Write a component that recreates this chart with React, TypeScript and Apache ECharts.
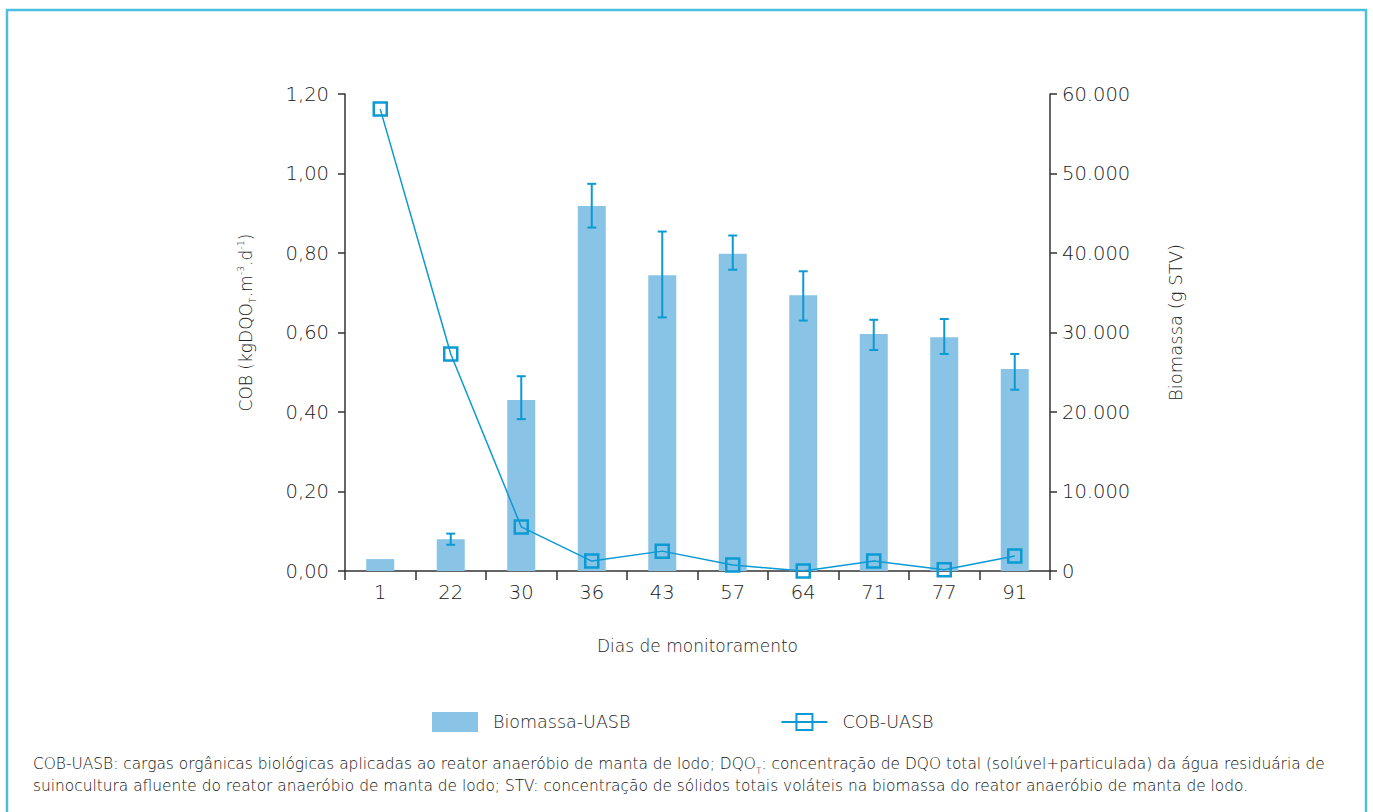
import React, { useEffect, useRef } from "react";
import * as echarts from "echarts";

const categories = ["1", "22", "30", "36", "43", "57", "64", "71", "77", "91"];
const biomassa = [1500, 4000, 21500, 45900, 37200, 39900, 34700, 29800, 29400, 25400];
const errLow = [null, 3300, 19100, 43200, 31900, 37900, 31500, 27800, 27300, 22800];
const errHigh = [null, 4700, 24500, 48700, 42700, 42200, 37700, 31600, 31700, 27300];
const cob = [1.162, 0.546, 0.111, 0.025, 0.05, 0.015, 0.0, 0.025, 0.003, 0.038];
const leftTicks = { min: 0, max: 1.2, interval: 0.2 };
const rightTicks = { min: 0, max: 60000, interval: 10000 };

const FONT = "'DejaVu Sans'";
const TXT = "#222";
const BAR = "#89c4e6";
const LINE = "#0b9ad3";
const W = 200;

export default function App() {
  const ref = useRef<HTMLDivElement>(null);
  useEffect(() => {
    if (!ref.current) return;
    const chart = echarts.init(ref.current, null, { renderer: "svg" });
    const errData = categories
      .map((_, i) => (errLow[i] == null ? null : [i, errLow[i], errHigh[i]]))
      .filter((d) => d !== null);
    chart.setOption({
      animation: false,
      textStyle: { fontFamily: FONT, fontWeight: W },
      grid: { left: 345, right: 323, top: 94, bottom: 241 },
      legend: {
        left: 427,
        top: 707,
        itemWidth: 46,
        itemHeight: 20,
        itemGap: 150,
        textStyle: { fontSize: 17.5, color: TXT, fontFamily: FONT, fontWeight: W, padding: [0, 0, 0, 10] },
        data: [{ name: "Biomassa-UASB", icon: "rect" }, { name: "COB-UASB" }],
      },
      xAxis: {
        type: "category",
        data: categories,
        boundaryGap: true,
        name: "Dias de monitoramento",
        nameLocation: "middle",
        nameGap: 66,
        nameTextStyle: { fontSize: 17, color: TXT, fontFamily: FONT, fontWeight: W },
        axisLine: { lineStyle: { color: "#333", width: 1.5 } },
        axisTick: { show: true, length: 9, lineStyle: { color: "#333", width: 1.5 } },
        axisLabel: { fontSize: 19.5, color: TXT, margin: 11, fontFamily: FONT, fontWeight: W },
      },
      yAxis: [
        {
          type: "value",
          ...leftTicks,
          name: "COB (kgDQO{sub|T}.m{sup|-3}.d{sup|-1})",
          nameLocation: "middle",
          nameRotate: 90,
          nameGap: 88,
          nameTextStyle: {
            fontSize: 17,
            color: TXT,
            fontFamily: FONT,
            fontWeight: W,
            lineHeight: 22,
            padding: [0, 0, 0, 20],
            rich: {
              sub: { fontSize: 9.5, verticalAlign: "bottom", color: TXT, fontFamily: FONT, fontWeight: W },
              sup: { fontSize: 9.5, verticalAlign: "top", color: TXT, fontFamily: FONT, fontWeight: W },
            },
          },
          axisLine: { show: true, lineStyle: { color: "#333", width: 1.5 } },
          axisTick: { show: true, length: 7, lineStyle: { color: "#333", width: 1.5 } },
          splitLine: { show: false },
          axisLabel: {
            fontSize: 19.5,
            color: TXT,
            margin: 16,
            fontFamily: FONT,
            fontWeight: W,
            formatter: (v: number) => v.toFixed(2).replace(".", ","),
          },
        },
        {
          type: "value",
          ...rightTicks,
          position: "right",
          name: "Biomassa (g STV)",
          nameLocation: "middle",
          nameRotate: 90,
          nameGap: 116,
          nameTextStyle: { fontSize: 18, color: TXT, fontFamily: FONT, fontWeight: W, padding: [0, 0, 0, 20] },
          axisLine: { show: true, lineStyle: { color: "#333", width: 1.5 } },
          axisTick: { show: true, length: 7, lineStyle: { color: "#333", width: 1.5 } },
          splitLine: { show: false },
          axisLabel: {
            fontSize: 19.5,
            color: TXT,
            margin: 12,
            fontFamily: FONT,
            fontWeight: W,
            formatter: (v: number) => String(v).replace(/\B(?=(\d{3})+(?!\d))/g, "."),
          },
        },
      ],
      series: [
        {
          name: "Biomassa-UASB",
          type: "bar",
          yAxisIndex: 1,
          data: biomassa,
          barWidth: 28,
          itemStyle: { color: BAR },
          z: 1,
        },
        {
          name: "err",
          type: "custom",
          yAxisIndex: 1,
          data: errData,
          encode: { x: 0, y: [1, 2] },
          z: 3,
          renderItem: (params: any, api: any) => {
            const xi = api.value(0);
            const lo = api.coord([xi, api.value(1)]);
            const hi = api.coord([xi, api.value(2)]);
            const cap = 4.5;
            const st = { stroke: LINE, lineWidth: 2 };
            return {
              type: "group",
              children: [
                { type: "line", shape: { x1: lo[0], y1: lo[1], x2: hi[0], y2: hi[1] }, style: st },
                { type: "line", shape: { x1: lo[0] - cap, y1: lo[1], x2: lo[0] + cap, y2: lo[1] }, style: st },
                { type: "line", shape: { x1: hi[0] - cap, y1: hi[1], x2: hi[0] + cap, y2: hi[1] }, style: st },
              ],
            };
          },
        },
        {
          name: "COB-UASB",
          type: "line",
          yAxisIndex: 0,
          data: cob,
          symbol: "rect",
          symbolSize: 13,
          lineStyle: { color: LINE, width: 1.5 },
          itemStyle: { color: "rgba(255,255,255,0)", borderColor: LINE, borderWidth: 2.5 },
          z: 5,
        },
      ],
      graphic: [
        {
          type: "rect",
          shape: { x: 7, y: 10, width: 1359, height: 830 },
          style: { fill: "none", stroke: "#4cbfe0", lineWidth: 2.5 },
          silent: true,
        },
        {
          type: "text",
          left: 33,
          top: 753,
          style: {
            text:
              "COB-UASB: cargas orgânicas biológicas aplicadas ao reator anaeróbio de manta de lodo; DQO{sub|T}: concentração de DQO total (solúvel+particulada) da água residuária de\nsuinocultura afluente do reator anaeróbio de manta de lodo; STV: concentração de sólidos totais voláteis na biomassa do reator anaeróbio de manta de lodo.",
            fontSize: 15.4,
            lineHeight: 22,
            fill: "#111",
            fontFamily: FONT,
            fontWeight: W,
            rich: {
              sub: { fontSize: 9, verticalAlign: "bottom", fill: "#111", fontFamily: FONT, fontWeight: W },
            },
          },
        },
      ],
    });
    return () => chart.dispose();
  }, []);
  return (
    <div
      ref={ref}
      style={{ position: "fixed", left: 0, top: 0, width: 1373, height: 812, background: "#fff" }}
    />
  );
}
